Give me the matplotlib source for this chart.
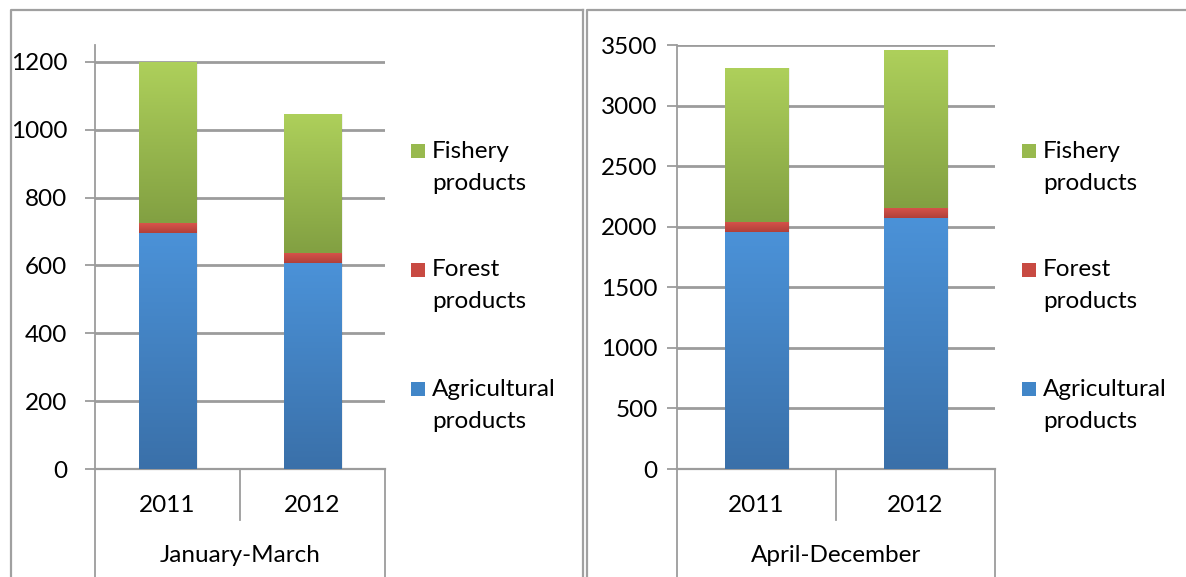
import numpy as np
import matplotlib
matplotlib.use("Agg")
import matplotlib.pyplot as plt
from matplotlib.patches import Rectangle
from matplotlib.colors import LinearSegmentedColormap

plt.rcParams['font.family'] = ['Lato', 'DejaVu Sans']

# ---- data ----
years = ["2011", "2012"]
periods = ["January-March", "April-December"]
series_names = ["Agricultural products", "Forest products", "Fishery products"]
jan_mar_agri = [696, 607]
jan_mar_forest = [29, 30]
jan_mar_fish = [475, 410]
apr_dec_agri = [1954, 2069]
apr_dec_forest = [88, 88]
apr_dec_fish = [1269, 1303]
jan_mar_ticks = [0, 200, 400, 600, 800, 1000, 1200]
apr_dec_ticks = [0, 500, 1000, 1500, 2000, 2500, 3000, 3500]

# gradient colours (top, bottom)
grads = {
    "Agricultural products": ("#4b92d8", "#3a70a9"),
    "Forest products": ("#d9544b", "#b0403a"),
    "Fishery products": ("#aed05b", "#82a042"),
}
legend_cols = {
    "Agricultural products": "#4186c8",
    "Forest products": "#c84a42",
    "Fishery products": "#98b94e",
}

W, H = 1186, 577
fig = plt.figure(figsize=(W / 100, H / 100), dpi=100)
FS = 17.5
GRID = "#9c9c9c"
TXT = "#000000"


def fx(px):
    return px / W


def fy(py):
    return 1 - py / H


def gradient_bar(ax, x, bottom, height, width, c_top, c_bot):
    p = ax.bar(x, height, width, bottom=bottom, color="none", linewidth=0, zorder=3)[0]
    cmap = LinearSegmentedColormap.from_list("g", [c_bot, c_top])
    grad = np.linspace(0, 1, 256).reshape(-1, 1)
    im = ax.imshow(grad, cmap=cmap, origin="lower", aspect="auto",
                   extent=(x - width / 2, x + width / 2, bottom, bottom + height),
                   zorder=3)
    im.set_clip_path(p)
    # soft shadow
    ax.add_patch(Rectangle((x - width / 2 + 0.012, bottom), width, height,
                           facecolor="#000000", alpha=0.06, linewidth=0, zorder=2))


def panel(rect_px, agri, forest, fish, ticks, ylim_top, period, legend_x, pad):
    l, r, t, b = rect_px
    ax = fig.add_axes([fx(l), fy(b), fx(r - l), (b - t) / H])
    xs = [0.5, 1.5]
    width = 0.4
    for i, x in enumerate(xs):
        bottoms = [0, agri[i], agri[i] + forest[i]]
        vals = [agri[i], forest[i], fish[i]]
        for name, bt, v in zip(series_names, bottoms, vals):
            ct, cb = grads[name]
            gradient_bar(ax, x, bt, v, width, ct, cb)
    ax.set_xlim(0, 2)
    ax.set_ylim(0, ylim_top)
    ax.set_yticks(ticks)
    ax.set_yticklabels([str(v) for v in ticks], fontsize=FS, color=TXT)
    ax.yaxis.grid(True, color=GRID, linewidth=2.0, zorder=0)
    ax.set_axisbelow(True)
    ax.tick_params(axis="y", length=7, width=1.3, color=GRID, pad=pad, direction="out")
    ax.set_xticks([])
    for s in ["top", "right"]:
        ax.spines[s].set_visible(False)
    ax.spines["left"].set_color(GRID)
    ax.spines["left"].set_linewidth(1.3)
    ax.spines["bottom"].set_color(GRID)
    ax.spines["bottom"].set_linewidth(1.6)
    ax.set_facecolor("none")
    tr = ax.get_xaxis_transform()
    # category separators
    hpx = b - t
    for xv, ylow in [(0, -0.3), (1, -(520 - b) / hpx), (2, -0.3)]:
        ax.plot([xv, xv], [0, ylow], transform=tr, color=GRID, lw=1.3, clip_on=False)
    for x, yr in zip(xs, years):
        ax.text(x, -(505 - b) / hpx, yr, transform=tr, ha="center", va="center",
                fontsize=FS, color=TXT)
    ax.text(1.0, -(555 - b) / hpx, period, transform=tr, ha="center", va="center",
            fontsize=FS, color=TXT)
    # legend
    ys = {"Fishery products": 151, "Forest products": 270, "Agricultural products": 389}
    for name in ["Fishery products", "Forest products", "Agricultural products"]:
        y0 = ys[name]
        fig.patches.append(Rectangle((fx(legend_x), fy(y0 + 7)), fx(14), 14 / H,
                                     transform=fig.transFigure, facecolor=legend_cols[name],
                                     edgecolor="none"))
        first, second = name.split(" ")
        fig.text(fx(legend_x + 21), fy(y0), first, ha="left", va="center",
                 fontsize=FS, color=TXT)
        fig.text(fx(legend_x + 21), fy(y0 + 32), second, ha="left", va="center",
                 fontsize=FS, color=TXT)
    return ax


panel((95, 385, 45, 469), jan_mar_agri, jan_mar_forest, jan_mar_fish,
      jan_mar_ticks, 1250, periods[0], 411, 13)
panel((677, 995, 45, 469), apr_dec_agri, apr_dec_forest, apr_dec_fish,
      apr_dec_ticks, 3500, periods[1], 1022, 7)

# panel borders
for (x0, x1) in [(11, 583), (587, 1200)]:
    fig.lines.append(plt.Line2D([fx(x0), fx(x0), fx(x1)], [fy(600), fy(9.5), fy(9.5)],
                                transform=fig.transFigure, color="#a0a0a0", lw=1.6))
fig.lines.append(plt.Line2D([fx(583), fx(583)], [fy(600), fy(9.5)],
                            transform=fig.transFigure, color="#a0a0a0", lw=1.6))

fig.savefig("out.png", dpi=100)
